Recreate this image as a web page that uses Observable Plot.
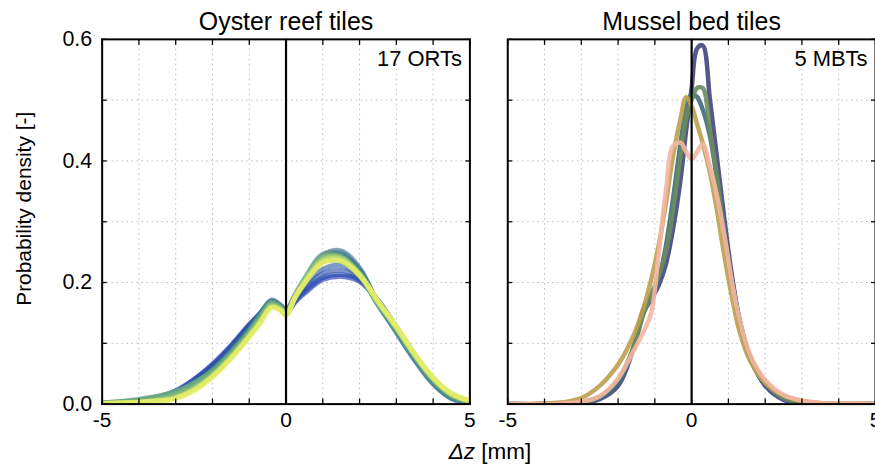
<!DOCTYPE html>
<html>
<head>
<meta charset="utf-8">
<script src="https://cdn.jsdelivr.net/npm/d3@7"></script>
<script src="https://cdn.jsdelivr.net/npm/@observablehq/plot@0.6"></script>
<style>
  html, body { margin: 0; padding: 0; overflow: hidden; background: #fff; }
  #wrap { position: relative; width: 875px; height: 468px; overflow: hidden; }
  #xlabel { position: absolute; left: 102px; width: 776px; top: 439px; text-align: center;
            font: 22.5px "Liberation Sans", Arial, sans-serif; color: #000; line-height: 26px; }
</style>
</head>
<body>
<div id="wrap"><div id="chart"></div><div id="xlabel"><i>Δz</i> [mm]</div></div>
<script>
// ---------- data ----------
const panels = ["Oyster reef tiles", "Mussel bed tiles"];
const notes = ["17 ORTs", "5 MBTs"];
const xTickLabels = [-5, 0, 5];
const yTickLabels = [0, 0.2, 0.4, 0.6];

// Oyster reef tiles: 17 density curves, sampled at these Δz values
const xOyster = [-5, -4.5, -4, -3.5, -3, -2.5, -2, -1.5, -1, -0.7, -0.4, -0.15, 0, 0.25, 0.5, 1, 1.5, 2, 2.5, 3, 3.5, 4, 4.5, 5];
const oysterCurves = [
  [0.001,0.003,0.006,0.011,0.022,0.041,0.066,0.096,0.131,0.149,0.165,0.157,0.149,0.168,0.182,0.205,0.210,0.202,0.170,0.127,0.081,0.041,0.014,0.003],
  [0.001,0.003,0.006,0.011,0.021,0.040,0.064,0.095,0.130,0.148,0.164,0.158,0.150,0.170,0.185,0.208,0.213,0.204,0.171,0.126,0.080,0.040,0.013,0.003],
  [0.001,0.002,0.005,0.010,0.020,0.038,0.062,0.093,0.128,0.149,0.166,0.159,0.151,0.172,0.190,0.215,0.220,0.207,0.169,0.124,0.078,0.038,0.012,0.003],
  [0.001,0.002,0.005,0.010,0.019,0.036,0.060,0.091,0.127,0.149,0.167,0.160,0.152,0.174,0.194,0.222,0.228,0.210,0.168,0.123,0.077,0.037,0.012,0.003],
  [0.001,0.002,0.005,0.010,0.018,0.034,0.058,0.089,0.125,0.149,0.169,0.162,0.153,0.178,0.200,0.238,0.246,0.220,0.166,0.120,0.074,0.035,0.010,0.002],
  [0.001,0.002,0.005,0.010,0.018,0.034,0.057,0.088,0.124,0.149,0.171,0.163,0.154,0.180,0.204,0.245,0.252,0.224,0.166,0.118,0.072,0.033,0.009,0.002],
  [0.001,0.002,0.005,0.009,0.017,0.033,0.056,0.087,0.123,0.148,0.170,0.162,0.153,0.179,0.203,0.242,0.249,0.222,0.165,0.119,0.073,0.034,0.010,0.002],
  [0.002,0.003,0.006,0.011,0.019,0.034,0.055,0.085,0.121,0.146,0.169,0.161,0.151,0.178,0.202,0.240,0.244,0.216,0.164,0.120,0.075,0.036,0.011,0.003],
  [0.002,0.004,0.007,0.012,0.020,0.035,0.055,0.084,0.120,0.145,0.168,0.160,0.150,0.180,0.206,0.247,0.245,0.214,0.163,0.121,0.076,0.037,0.012,0.003],
  [0.002,0.004,0.007,0.012,0.020,0.035,0.054,0.083,0.119,0.144,0.167,0.160,0.150,0.176,0.200,0.236,0.238,0.212,0.165,0.122,0.077,0.038,0.013,0.003],
  [0.002,0.004,0.008,0.013,0.021,0.035,0.054,0.083,0.118,0.143,0.166,0.159,0.149,0.177,0.200,0.234,0.234,0.210,0.166,0.124,0.079,0.040,0.015,0.004],
  [0.001,0.003,0.005,0.009,0.016,0.030,0.050,0.080,0.116,0.140,0.164,0.158,0.148,0.178,0.203,0.240,0.240,0.213,0.167,0.125,0.080,0.041,0.015,0.004],
  [0.001,0.002,0.004,0.007,0.013,0.027,0.048,0.078,0.114,0.138,0.162,0.157,0.148,0.179,0.204,0.242,0.242,0.214,0.168,0.126,0.081,0.042,0.016,0.005],
  [0.001,0.002,0.003,0.006,0.011,0.025,0.047,0.077,0.113,0.136,0.161,0.156,0.147,0.178,0.202,0.238,0.240,0.214,0.168,0.126,0.081,0.042,0.016,0.005],
  [0.001,0.002,0.003,0.005,0.010,0.024,0.046,0.076,0.112,0.135,0.160,0.155,0.147,0.177,0.200,0.236,0.238,0.213,0.169,0.127,0.082,0.043,0.017,0.005],
  [0.001,0.002,0.003,0.005,0.010,0.023,0.045,0.075,0.111,0.134,0.159,0.155,0.146,0.176,0.199,0.234,0.236,0.212,0.169,0.127,0.082,0.043,0.017,0.006],
  [0.001,0.002,0.003,0.005,0.009,0.022,0.044,0.074,0.110,0.133,0.158,0.154,0.146,0.175,0.198,0.232,0.235,0.212,0.170,0.128,0.083,0.044,0.018,0.006]
];

// Mussel bed tiles: 5 density curves
const xMussel = [-5, -4, -3.5, -3, -2.5, -2, -1.6, -1.3, -1.1, -0.9, -0.7, -0.5, -0.3, -0.15, 0, 0.15, 0.3, 0.5, 0.7, 0.9, 1.1, 1.3, 1.6, 2, 2.5, 3, 3.5, 4, 5];
const musselNavy  = [0,0,0.001,0.002,0.008,0.030,0.088,0.152,0.172,0.195,0.230,0.290,0.370,0.450,0.520,0.585,0.590,0.500,0.400,0.300,0.210,0.140,0.075,0.030,0.007,0.002,0,0,0];
const musselTeal  = [0,0,0.001,0.002,0.010,0.035,0.090,0.158,0.178,0.205,0.260,0.340,0.430,0.485,0.510,0.505,0.485,0.440,0.365,0.280,0.205,0.138,0.075,0.035,0.010,0.003,0.001,0,0];
const musselGreen = [0,0,0.001,0.003,0.012,0.040,0.090,0.150,0.180,0.210,0.250,0.320,0.410,0.470,0.500,0.520,0.520,0.450,0.370,0.275,0.200,0.135,0.075,0.035,0.010,0.003,0.001,0,0];
const musselGold  = [0,0.001,0.003,0.010,0.030,0.065,0.110,0.160,0.205,0.260,0.330,0.410,0.470,0.505,0.490,0.460,0.430,0.380,0.315,0.240,0.175,0.120,0.070,0.035,0.014,0.005,0.002,0.001,0];
const musselPink  = [0,0,0.001,0.004,0.013,0.042,0.085,0.120,0.150,0.245,0.350,0.425,0.430,0.415,0.403,0.415,0.428,0.390,0.340,0.275,0.200,0.140,0.080,0.040,0.015,0.006,0.002,0.001,0];
const musselCurves = [musselNavy, musselTeal, musselGreen, musselGold, musselPink];

// ---------- styles ----------
const oysterColors = ["#1a35b3","#1f3fae","#2449a9","#2a55a3","#31619d","#396e96","#417b90","#4a888b","#549587",
                      "#60a184","#6eac80","#7fb77c","#93c377","#aad073","#c3de6e","#dbea6a","#eef265"];
const musselColors = ["#43457f","#3d6a80","#6a8c5c","#bca04f","#f4b6a2"];

// ---------- table ----------
const oysterRows = [];
oysterCurves.forEach((ys, i) => ys.forEach((v, j) =>
  oysterRows.push({panel: panels[0], id: "o" + i, x: xOyster[j], y: v, color: oysterColors[i]})));
const musselRows = [];
musselCurves.forEach((ys, i) => ys.forEach((v, j) =>
  musselRows.push({panel: panels[1], id: "m" + i, x: xMussel[j], y: v, color: musselColors[i]})));
const noteRows = panels.map((p, i) => ({panel: p, note: notes[i]}));

const font = "Liberation Sans, Arial, Helvetica, sans-serif";
const gridStyle = {stroke: "#bbb", strokeOpacity: 1, strokeWidth: 1, strokeDasharray: "1.5,3.5"};

const chart = Plot.plot({
  width: 878,
  height: 436,
  marginLeft: 102,
  marginRight: 0,
  marginTop: 39,
  marginBottom: 31,
  style: {fontFamily: font, fontSize: "21px", color: "black", background: "white"},
  x: {domain: [-5, 5], label: null},
  y: {domain: [0, 0.6], label: null},
  fx: {domain: panels, paddingInner: 38 / 407, paddingOuter: 0, label: null},
  color: {type: "identity"},
  marks: [
    Plot.gridX(d3.range(-4, 5), gridStyle),
    Plot.gridY(d3.range(1, 6).map(d => d / 10), gridStyle),
    Plot.line(oysterRows, {fx: "panel", x: "x", y: "y", z: "id", stroke: "color", strokeWidth: 5, strokeOpacity: 0.6, curve: "catmull-rom", clip: true}),
    Plot.line(musselRows, {fx: "panel", x: "x", y: "y", z: "id", stroke: "color", strokeWidth: 4.5, strokeOpacity: 0.9, curve: "catmull-rom", clip: true}),
    Plot.ruleX([0], {stroke: "black", strokeWidth: 2.2}),
    Plot.frame({stroke: "black", strokeWidth: 2}),
    // inward ticks on all four sides
    Plot.axisX(d3.range(-5, 6), {anchor: "bottom", tickSize: -5, fill: "none", label: null, facetAnchor: null, strokeWidth: 1.3}),
    Plot.axisX(d3.range(-5, 6), {anchor: "top", tickSize: -5, fill: "none", label: null, facetAnchor: null, strokeWidth: 1.3}),
    Plot.axisY(d3.range(0, 7).map(d => d / 10), {anchor: "left", tickSize: -5, fill: "none", label: null, facetAnchor: null, strokeWidth: 1.3}),
    Plot.axisY(d3.range(0, 7).map(d => d / 10), {anchor: "right", tickSize: -5, fill: "none", label: null, facetAnchor: null, strokeWidth: 1.3}),
    // tick labels
    Plot.axisX(xTickLabels, {anchor: "bottom", tickSize: 0, tickPadding: 8, label: null, tickFormat: d => String(d), fontSize: 21}),
    Plot.axisY(yTickLabels, {anchor: "left", tickSize: 0, tickPadding: 10, label: null, tickFormat: d => d.toFixed(1), fontSize: 21.5}),
    // panel titles
    Plot.axisFx({anchor: "top", tickSize: 0, tickPadding: 9, label: null, fontSize: 25}),
    // notes
    Plot.text(noteRows, {fx: "panel", text: "note", frameAnchor: "top-right", textAnchor: "end", lineAnchor: "top", dx: -8, dy: 11, fontSize: 22}),
    // y axis title
    Plot.text(["Probability density [-]"], {fx: () => panels[0], text: d => d, frameAnchor: "left", dx: -78, dy: -13, rotate: -90, textAnchor: "middle", lineAnchor: "middle", fontSize: 21})
  ]
});
document.getElementById("chart").appendChild(chart);
</script>
</body>
</html>
